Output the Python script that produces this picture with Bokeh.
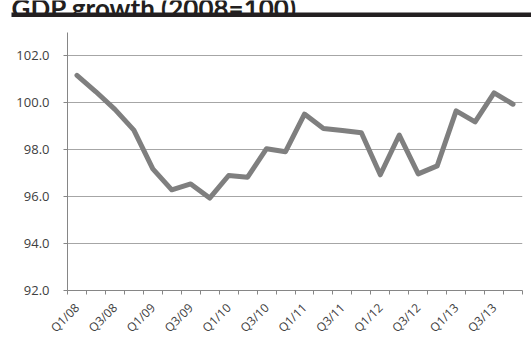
import math

from bokeh.core.properties import value
from bokeh.embed import file_html
from bokeh.models import FixedTicker, NumeralTickFormatter, Range1d
from bokeh.plotting import figure
from bokeh.resources import INLINE

# Quarterly GDP index, 2008 = 100
quarters = [
    "Q1/08", "Q2/08", "Q3/08", "Q4/08",
    "Q1/09", "Q2/09", "Q3/09", "Q4/09",
    "Q1/10", "Q2/10", "Q3/10", "Q4/10",
    "Q1/11", "Q2/11", "Q3/11", "Q4/11",
    "Q1/12", "Q2/12", "Q3/12", "Q4/12",
    "Q1/13", "Q2/13", "Q3/13", "Q4/13",
]
gdp_index = [
    101.15, 100.45, 99.70, 98.82,
    97.17, 96.28, 96.53, 95.93,
    96.89, 96.82, 98.03, 97.90,
    99.50, 98.89, 98.80, 98.71,
    96.92, 98.61, 96.96, 97.30,
    99.64, 99.17, 100.40, 99.92,
]
y_ticks = [92, 94, 96, 98, 100, 102]
title_text = "GDP growth (2008=100)"

positions = list(range(len(quarters)))

W = 531
HEAD_H = 17
CHART_H = 344 - HEAD_H

# ---- heading strip: bold title with a heavy rule underneath ----
head = figure(
    width=W, height=HEAD_H, output_backend="svg", toolbar_location=None,
    x_range=Range1d(0, W), y_range=Range1d(0, HEAD_H),
    x_axis_location=None, y_axis_location=None,
    min_border=0,
)
head.outline_line_color = None
head.grid.visible = False
head.quad(left=[11], right=[W], bottom=[0], top=[5],
          fill_color="#231f20", line_color=None)
head.text(x=[11], y=[10], text=[title_text],
          text_font=value("Lato"), text_font_style="bold",
          text_font_size=value("26px"), text_color="#231f20",
          text_baseline="alphabetic", text_align="left")

# ---- line chart ----
p = figure(
    width=W, height=CHART_H,
    output_backend="svg", toolbar_location=None,
    x_range=Range1d(-0.5, len(quarters) - 0.5),
    y_range=Range1d(92, 102.97),
    min_border_left=67, min_border_right=9,
    min_border_top=15, min_border_bottom=53,
)
p.outline_line_color = None

# category axis: labels on every other quarter, ticks on category boundaries
xa = p.xaxis[0]
xa.ticker = FixedTicker(
    ticks=positions[::2],
    minor_ticks=[i - 0.5 for i in range(len(quarters) + 1)],
)
xa.major_label_overrides = {i: quarters[i] for i in positions[::2]}
xa.major_label_orientation = math.pi / 4
xa.major_tick_in = 0
xa.major_tick_out = 0
xa.minor_tick_in = 0
xa.minor_tick_out = 4
xa.minor_tick_line_color = "#868686"
xa.axis_line_color = "#868686"
xa.major_label_text_font = "Open Sans"
xa.major_label_text_font_size = "12px"
xa.major_label_text_color = "#404040"
xa.major_label_standoff = 11

ya = p.yaxis[0]
ya.ticker = FixedTicker(ticks=y_ticks, minor_ticks=[])
ya.formatter = NumeralTickFormatter(format="0.0")
ya.major_tick_in = 0
ya.major_tick_out = 4
ya.major_tick_line_color = "#868686"
ya.axis_line_color = "#868686"
ya.major_label_text_font = "Open Sans"
ya.major_label_text_font_size = "13px"
ya.major_label_text_color = "#404040"
ya.major_label_standoff = 14

p.xgrid.visible = False
p.ygrid.ticker = FixedTicker(ticks=y_ticks)
p.ygrid.grid_line_color = "#a6a6a6"
p.ygrid.grid_line_width = 1

p.line(positions, gdp_index, line_width=5, line_color="#7f7f7f",
       line_join="round", line_cap="round")

# two independent roots stacked on the page
open("out.html", "w").write(file_html([head, p], INLINE))
